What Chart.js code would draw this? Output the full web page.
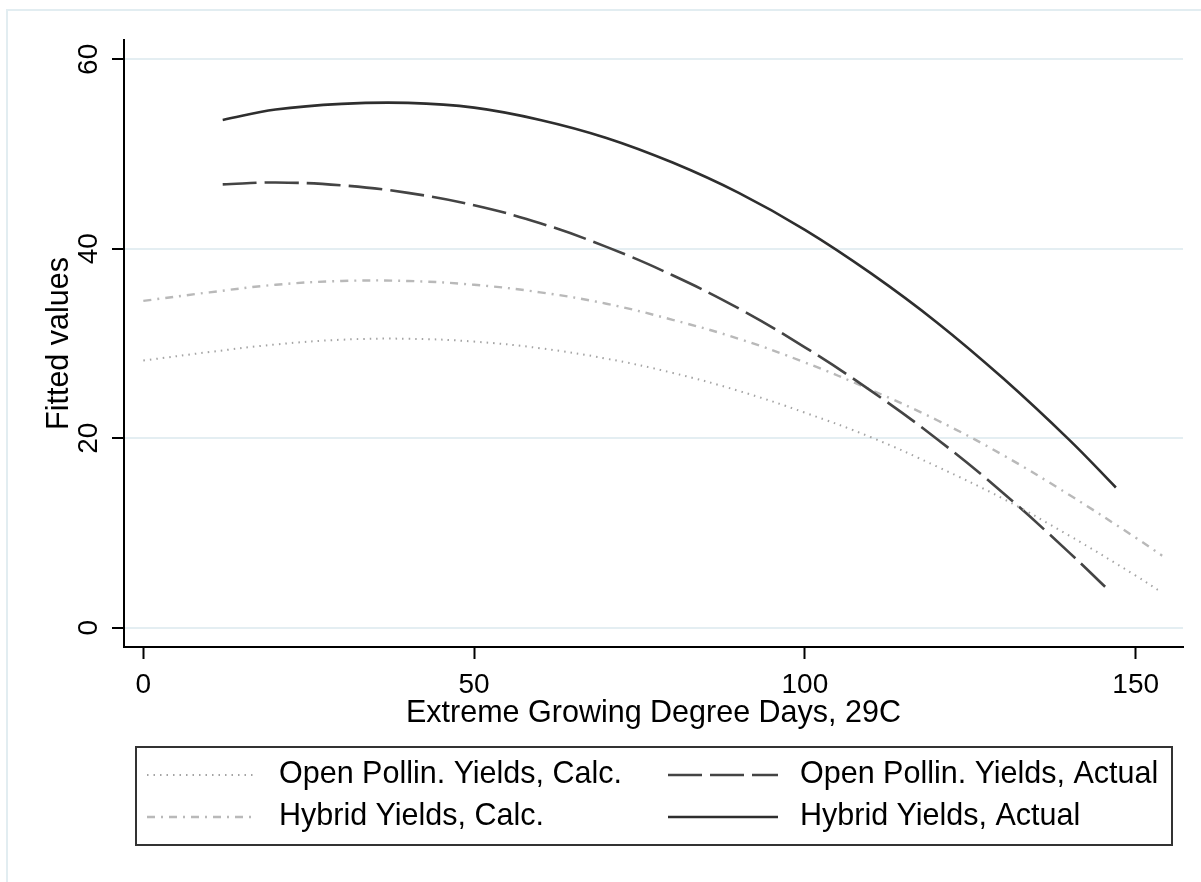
<!DOCTYPE html>
<html>
<head>
<meta charset="utf-8">
<script src="https://cdn.jsdelivr.net/npm/chart.js@4/dist/chart.umd.min.js"></script>
<style>
  html, body { margin: 0; padding: 0; background: #fff; }
  #wrap { width: 1201px; height: 882px; }
</style>
</head>
<body>
<div id="wrap"><canvas id="chart" width="1201" height="882"></canvas></div>
<script>
const FONT = '"Liberation Sans", Arial, sans-serif';

// x values of the fitted curves
const xCalc = [0, 10, 20, 30, 40, 50, 60, 70, 80, 90, 100, 110, 120, 130, 140, 150, 154];
const xOpenActual = [12, 20, 30, 40, 50, 60, 70, 80, 90, 100, 110, 120, 130, 140, 146];
const xHybridActual = [12, 20, 30, 40, 50, 60, 70, 80, 90, 100, 110, 120, 130, 140, 147];

// fitted values
const openCalc = [28.2, 29.1, 29.9, 30.4, 30.5, 30.2, 29.5, 28.4, 26.9, 25.0, 22.7, 20.1, 17.0, 13.6, 9.7, 5.5, 3.7];
const hybridCalc = [34.5, 35.4, 36.2, 36.6, 36.6, 36.2, 35.4, 34.2, 32.5, 30.5, 28.0, 25.1, 21.9, 18.2, 14.0, 9.5, 7.6];
const openActual = [46.8, 47.0, 46.7, 45.9, 44.6, 42.7, 40.2, 37.2, 33.7, 29.6, 25.0, 19.9, 14.2, 7.9, 3.9];
const hybridActual = [53.6, 54.7, 55.3, 55.4, 54.9, 53.6, 51.7, 49.1, 45.9, 42.0, 37.4, 32.2, 26.3, 19.8, 14.8];

const seriesNames = [
  'Open Pollin. Yields, Calc.',
  'Open Pollin. Yields, Actual',
  'Hybrid Yields, Calc.',
  'Hybrid Yields, Actual'
];

const xTicks = [0, 50, 100, 150];
const yTicks = [0, 20, 40, 60];

const pts = (xs, ys) => xs.map((x, i) => ({ x: x, y: ys[i] }));

const lineBase = {
  pointRadius: 0,
  fill: false,
  tension: 0.4,
  borderCapStyle: 'butt'
};

// outer frame, y tick labels (rotated) and the boxed legend
const stataExtras = {
  id: 'stataExtras',
  beforeDraw(chart) {
    const ctx = chart.ctx;
    ctx.save();
    ctx.strokeStyle = '#e2edf1';
    ctx.lineWidth = 2;
    ctx.strokeRect(7, 10, 1210, 900);
    ctx.restore();
  },
  afterDraw(chart) {
    const ctx = chart.ctx;
    const y = chart.scales.y;
    ctx.save();
    ctx.fillStyle = '#000';
    ctx.font = '28px ' + FONT;
    ctx.textAlign = 'center';
    ctx.textBaseline = 'middle';
    yTicks.forEach(v => {
      ctx.save();
      ctx.translate(89, y.getPixelForValue(v));
      ctx.rotate(-Math.PI / 2);
      ctx.fillText(String(v), 0, 0);
      ctx.restore();
    });
    ctx.restore();

    // legend
    ctx.save();
    ctx.strokeStyle = '#333';
    ctx.lineWidth = 2;
    ctx.strokeRect(136, 747, 1036, 98);
    const slots = [
      { sx: 147, ex: 256, tx: 279, y: 775 },
      { sx: 668, ex: 778, tx: 800, y: 775 },
      { sx: 147, ex: 256, tx: 279, y: 817 },
      { sx: 668, ex: 778, tx: 800, y: 817 }
    ];
    chart.data.datasets.forEach((ds, i) => {
      const s = slots[i];
      ctx.save();
      ctx.strokeStyle = ds.borderColor;
      ctx.lineWidth = ds.borderWidth;
      ctx.setLineDash(ds.borderDash || []);
      ctx.beginPath();
      ctx.moveTo(s.sx, s.y);
      ctx.lineTo(s.ex, s.y);
      ctx.stroke();
      ctx.restore();
      ctx.fillStyle = '#000';
      ctx.font = '30.5px ' + FONT;
      ctx.textAlign = 'left';
      ctx.textBaseline = 'middle';
      ctx.fillText(ds.label, s.tx, s.y);
    });
    ctx.restore();
  }
};

new Chart(document.getElementById('chart').getContext('2d'), {
  type: 'line',
  data: {
    datasets: [
      Object.assign({}, lineBase, {
        label: seriesNames[0],
        data: pts(xCalc, openCalc),
        borderColor: '#a4a4a4',
        borderWidth: 2,
        borderDash: [1.5, 5]
      }),
      Object.assign({}, lineBase, {
        label: seriesNames[1],
        data: pts(xOpenActual, openActual),
        borderColor: '#444',
        borderWidth: 2.6,
        borderDash: [34, 8]
      }),
      Object.assign({}, lineBase, {
        label: seriesNames[2],
        data: pts(xCalc, hybridCalc),
        borderColor: '#b9b9b9',
        borderWidth: 2.4,
        borderDash: [8, 6, 2, 6]
      }),
      Object.assign({}, lineBase, {
        label: seriesNames[3],
        data: pts(xHybridActual, hybridActual),
        borderColor: '#2e2e2e',
        borderWidth: 2.6
      })
    ]
  },
  options: {
    responsive: false,
    animation: false,
    devicePixelRatio: 1,
    layout: { padding: { left: 0, top: 40, right: 18, bottom: 142 } },
    plugins: {
      legend: { display: false },
      tooltip: { enabled: false }
    },
    scales: {
      x: {
        type: 'linear',
        min: -2.92,
        max: 157.15,
        afterBuildTicks: s => { s.ticks = xTicks.map(v => ({ value: v })); },
        afterFit: s => { s.height = 93; },
        grid: {
          display: true,
          drawOnChartArea: false,
          drawTicks: true,
          tickLength: 12,
          tickColor: '#000',
          tickWidth: 2
        },
        border: { display: true, color: '#000', width: 2 },
        ticks: {
          color: '#000',
          font: { family: FONT, size: 28 },
          padding: 9,
          maxRotation: 0,
          minRotation: 0
        },
        title: {
          display: true,
          text: 'Extreme Growing Degree Days, 29C',
          color: '#000',
          font: { family: FONT, size: 30.5 },
          padding: { top: 0, bottom: 8 }
        }
      },
      y: {
        type: 'linear',
        min: -2.04,
        max: 62.04,
        afterBuildTicks: s => { s.ticks = yTicks.map(v => ({ value: v })); },
        afterFit: s => { s.width = 124; },
        grid: {
          color: '#e4eef2',
          lineWidth: 2,
          drawTicks: true,
          tickLength: 12,
          tickColor: '#000',
          tickWidth: 2
        },
        border: { display: true, color: '#000', width: 2 },
        ticks: { display: false },
        title: {
          display: true,
          text: 'Fitted values',
          color: '#000',
          font: { family: FONT, size: 30.5 },
          padding: { top: 41, bottom: 0 }
        }
      }
    }
  },
  plugins: [stataExtras]
});
</script>
</body>
</html>
